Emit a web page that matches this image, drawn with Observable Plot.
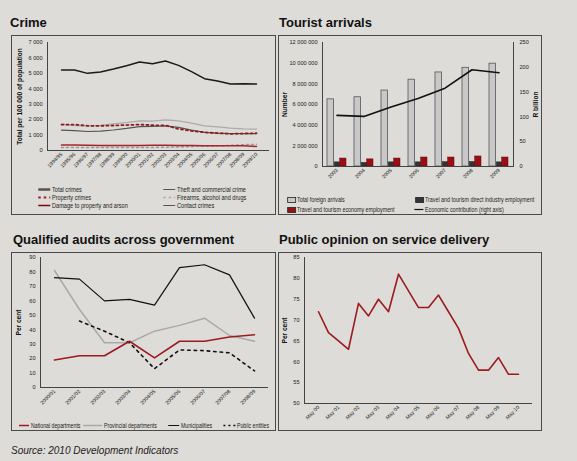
<!DOCTYPE html>
<html><head><meta charset="utf-8">
<script src="https://cdn.jsdelivr.net/npm/d3@7"></script>
<script src="https://cdn.jsdelivr.net/npm/@observablehq/plot@0.6"></script>
<style>
html,body{margin:0;padding:0;background:#dddcd8;}
#page{position:relative;width:577px;height:461px;background:#dddcd8;overflow:hidden;font-family:"Liberation Sans",Arial,sans-serif;}
.title{position:absolute;font-weight:bold;font-size:13px;line-height:13px;color:#111;white-space:nowrap;}
.box{position:absolute;border:1px solid #4a4a4a;box-sizing:border-box;}
.panel{position:absolute;}
.panel svg{display:block;overflow:visible;}
.leg{position:absolute;font-family:"Liberation Sans Narrow","Liberation Sans",sans-serif;font-size:6.5px;line-height:7px;color:#222;white-space:nowrap;transform-origin:0 0;}
.sw{position:absolute;overflow:visible;}
.source{position:absolute;font-style:italic;font-size:10px;line-height:10px;color:#222;white-space:nowrap;}
</style>
</head><body>
<div id="page"></div>
<script>
// ---------- Data ----------
const crimeYears = ["1994/95","1995/96","1996/97","1997/98","1998/99","1999/00","2000/01","2001/02","2002/03","2003/04","2004/05","2005/06","2006/07","2007/08","2008/09","2009/10"];
const totalCrimes = [5215,5215,5000,5086,5280,5495,5733,5625,5797,5517,5108,4655,4504,4310,4332,4310];
const propertyCrimes = [1680,1680,1600,1600,1620,1650,1680,1640,1620,1400,1270,1180,1120,1080,1100,1120];
const theftCommercial = [1320,1290,1230,1260,1330,1430,1550,1570,1600,1500,1320,1180,1120,1100,1100,1100];
const contactCrimes = [1700,1620,1600,1620,1720,1810,1920,1900,1980,1920,1770,1600,1530,1450,1400,1380];
const damageArson = [360,350,340,330,330,330,330,340,340,330,320,310,300,300,300,260];
const firearmsDrugs = [200,190,190,190,190,190,200,200,210,230,260,280,300,330,380,400];
const crimeTicks = [0,1000,2000,3000,4000,5000,6000,7000];

const tourYears = ["2003","2004","2005","2006","2007","2008","2009"];
const foreignArrivals = [6500000,6700000,7350000,8400000,9100000,9550000,9950000];
const directEmployment = [400000,350000,400000,400000,420000,430000,400000];
const economyEmployment = [770000,690000,770000,870000,870000,970000,870000];
const economicContribution = [103,101,120,137,158,195,189];
const tourLeftTicks = [0,2000000,4000000,6000000,8000000,10000000,12000000];
const tourRightTicks = [0,50,100,150,200,250];

const auditYears = ["2000/01","2001/02","2002/03","2003/04","2004/05","2005/06","2006/07","2007/08","2008/09"];
const nationalDepts = [19,22,22,32,20.5,32,32,35,36.5];
const provincialDepts = [81,54,31,31,39,43,48,36,32];
const municipalities = [76,75,60,61,57,83,85,78,48];
const publicEntities = [null,46,39,31,13,26,25.5,24,11.5];
const auditTicks = [0,10,20,30,40,50,60,70,80,90];

const opinionDates = ["May 00","Nov 00","May 01","Nov 01","May 02","Nov 02","May 03","Nov 03","May 04","Nov 04","May 05","Nov 05","May 06","Nov 06","May 07","Nov 07","May 08","Nov 08","May 09","Nov 09","May 10"];
const opinionValues = [72,67,65,63,74,71,75,72,81,77,73,73,76,72,68,62,58,58,61,57,57];
const opinionTicks = [50,55,60,65,70,75,80,85];

// ---------- helpers ----------
const page = document.getElementById("page");
const NARROW = '"Liberation Sans Narrow","Liberation Sans",sans-serif';
const fmtSpace = d => d3.format(",")(d).replace(/,/g, " ");
const AX = "#444";
const RED = "#9b1b1f";
const XF = 5.2, YF = 5.6;
function add(tag, cls, css, html) {
  const el = document.createElement(tag);
  if (cls) el.className = cls;
  Object.assign(el.style, css);
  if (html != null) el.innerHTML = html;
  page.appendChild(el);
  return el;
}
function panel(left, top, svg) {
  const d = add("div", "panel", {left: left + "px", top: top + "px"});
  d.appendChild(svg);
}
const baseStyle = {background: "transparent", fontFamily: NARROW, fontSize: "6px", color: "#222", overflow: "visible"};
function axisTitle(text, dx, anchor = "left") {
  return Plot.text([text], {text: d => d, frameAnchor: anchor, textAnchor: "middle", dx, rotate: -90, fontWeight: "bold", fontSize: 6.6, fill: "#111"});
}
function legLine(x, y, label, sc, {stroke, width = 1, dash = null, len = 12}) {
  const s = `<svg class="sw" width="${len}" height="6" style="left:${(-len - 2) / sc}px;top:0px;transform:scaleX(${1 / sc});transform-origin:0 0"><line x1="0" x2="${len}" y1="3.5" y2="3.5" stroke="${stroke}" stroke-width="${width}" ${dash ? `stroke-dasharray="${dash}"` : ""}/></svg>`;
  add("div", "leg", {left: x + "px", top: y + "px", transform: `scaleX(${sc})`}, s + label);
}
function legRect(x, y, label, sc, fill) {
  const s = `<svg class="sw" width="9" height="6" style="left:${-10 / sc}px;top:0.5px;transform:scaleX(${1 / sc});transform-origin:0 0"><rect x="0.5" y="0.5" width="8" height="5" fill="${fill}" stroke="#222" stroke-width="0.8"/></svg>`;
  add("div", "leg", {left: x + "px", top: y + "px", transform: `scaleX(${sc})`}, s + label);
}

// ---------- Titles & boxes ----------
add("div", "title", {left: "10px", top: "16px"}, "Crime");
add("div", "title", {left: "279px", top: "16px"}, "Tourist arrivals");
add("div", "title", {left: "13px", top: "233px"}, "Qualified audits across government");
add("div", "title", {left: "279px", top: "233px"}, "Public opinion on service delivery");
add("div", "box", {left: "11px", top: "35px", width: "265px", height: "180px"});
add("div", "box", {left: "278px", top: "35px", width: "264px", height: "180px"});
add("div", "box", {left: "11px", top: "252px", width: "265px", height: "179px"});
add("div", "box", {left: "278px", top: "252px", width: "264px", height: "179px"});
add("div", "source", {left: "11px", top: "446px"}, "Source: 2010 Development Indicators");

// ---------- Crime ----------
const cx = (d, i) => crimeYears[i];
panel(11, 36, Plot.plot({
  width: 265, height: 150, marginLeft: 36, marginRight: 7, marginTop: 6, marginBottom: 36,
  style: baseStyle,
  x: {type: "point", domain: crimeYears, padding: 0.5},
  y: {domain: [0, 7000]},
  marks: [
    Plot.axisY({ticks: crimeTicks, tickFormat: fmtSpace, tickSize: 0, tickPadding: 5, label: null, fontSize: YF}),
    Plot.axisX({tickRotate: -45, tickSize: 0, tickPadding: 3, label: null, fontSize: XF}),
    Plot.frame({anchor: "left", stroke: AX}),
    Plot.ruleY([0], {stroke: AX}),
    Plot.line(contactCrimes, {x: cx, y: d => d, stroke: "#ababab", strokeWidth: 1.3}),
    Plot.line(theftCommercial, {x: cx, y: d => d, stroke: "#555", strokeWidth: 1.2}),
    Plot.line(firearmsDrugs, {x: cx, y: d => d, stroke: "#9a9a9a", strokeWidth: 1.5, strokeDasharray: "2,3"}),
    Plot.line(damageArson, {x: cx, y: d => d, stroke: "#a5272b", strokeWidth: 1.5}),
    Plot.line(propertyCrimes, {x: cx, y: d => d, stroke: "#8e1a1c", strokeWidth: 1.8, strokeDasharray: "2,3"}),
    Plot.line(totalCrimes, {x: cx, y: d => d, stroke: "#1a1a1a", strokeWidth: 1.5}),
    axisTitle("Total per 100 000 of population", -28)
  ]
}));
const cs = 0.86;
legLine(52, 186, "Total crimes", cs, {stroke: "#555", width: 2.5});
legLine(52, 194, "Property crimes", cs, {stroke: "#a01c1c", width: 2, dash: "2.5,3"});
legLine(52, 201.5, "Damage to property and arson", cs, {stroke: "#7a0a0a", width: 1.5});
legLine(177, 186, "Theft and commercial crime", cs, {stroke: "#555", width: 1});
legLine(177, 194, "Firearms, alcohol and drugs", cs, {stroke: "#aaa", width: 1.5, dash: "2.5,3"});
legLine(177, 201.5, "Contact crimes", cs, {stroke: "#555", width: 1});

// ---------- Tourist arrivals ----------
const factor = 12000000 / 250;
const tx = (d, i) => tourYears[i];
panel(278, 36, Plot.plot({
  width: 264, height: 150, marginLeft: 44, marginRight: 29, marginTop: 6, marginBottom: 20,
  style: baseStyle,
  x: {type: "band", domain: tourYears, paddingInner: 0.3, paddingOuter: 0.15},
  y: {domain: [0, 12000000]},
  marks: [
    Plot.axisY({ticks: tourLeftTicks, tickFormat: fmtSpace, tickSize: 0, tickPadding: 5, label: null, fontSize: YF}),
    Plot.axisY({anchor: "right", ticks: tourRightTicks.map(v => v * factor), tickFormat: d => String(Math.round(d / factor)), tickSize: 0, tickPadding: 6, label: null, fontSize: YF}),
    Plot.axisX({tickRotate: -45, tickSize: 0, tickPadding: 3, label: null, fontSize: XF}),
    Plot.barY(foreignArrivals, {x: tx, y: d => d, fill: "#c8c8c8", stroke: "#555", strokeWidth: 0.8, insetLeft: 0, insetRight: 12.5}),
    Plot.barY(directEmployment, {x: tx, y: d => d, fill: "#333", stroke: "#222", strokeWidth: 0.5, insetLeft: 7.3, insetRight: 6.3}),
    Plot.barY(economyEmployment, {x: tx, y: d => d, fill: "#9a0e14", stroke: "#5a0a0a", strokeWidth: 0.5, insetLeft: 12.7, insetRight: 0}),
    Plot.frame({anchor: "left", stroke: AX}),
    Plot.frame({anchor: "right", stroke: AX}),
    Plot.ruleY([0], {stroke: AX}),
    Plot.line(economicContribution, {x: tx, y: d => d * factor, stroke: "#111", strokeWidth: 1.6}),
    axisTitle("Number", -38),
    axisTitle("R billion", 22, "right")
  ]
}));
const ts = 0.82;
legRect(297, 196, "Total foreign arrivals", ts, "#c8c8c8");
legRect(297, 206, "Travel and tourism economy employment", ts, "#9a0e14");
legRect(425, 196, "Travel and tourism direct industry employment", ts, "#333");
legLine(425, 206, "Economic contribution (right axis)", ts, {stroke: "#111", width: 1.2, len: 9});

// ---------- Qualified audits ----------
const ax = (d, i) => auditYears[i];
panel(11, 252, Plot.plot({
  width: 265, height: 165, marginLeft: 29, marginRight: 8, marginTop: 5, marginBottom: 30,
  style: baseStyle,
  x: {type: "point", domain: auditYears, padding: 0.5},
  y: {domain: [0, 90]},
  marks: [
    Plot.axisY({ticks: auditTicks, tickSize: 0, tickPadding: 5, label: null, fontSize: YF}),
    Plot.axisX({tickRotate: -45, tickSize: 0, tickPadding: 3, label: null, fontSize: XF}),
    Plot.frame({anchor: "left", stroke: AX}),
    Plot.ruleY([0], {stroke: AX}),
    Plot.line(provincialDepts, {x: ax, y: d => d, stroke: "#a9a9a9", strokeWidth: 1.5}),
    Plot.line(publicEntities, {x: ax, y: d => d, stroke: "#111", strokeWidth: 1.6, strokeDasharray: "2.5,4"}),
    Plot.line(municipalities, {x: ax, y: d => d, stroke: "#111", strokeWidth: 1.2}),
    Plot.line(nationalDepts, {x: ax, y: d => d, stroke: RED, strokeWidth: 1.6}),
    axisTitle("Per cent", -22)
  ]
}));
const as = 0.8;
legLine(31, 422, "National departments", as, {stroke: RED, width: 1.5, len: 10});
legLine(104, 422, "Provincial departments", as, {stroke: "#a9a9a9", width: 1.5, len: 19});
legLine(181, 422, "Municipalities", as, {stroke: "#111", width: 1, len: 11});
legLine(237, 422, "Public entities", as, {stroke: "#111", width: 1.5, dash: "2,3", len: 12});

// ---------- Public opinion ----------
panel(278, 252, Plot.plot({
  width: 264, height: 178, marginLeft: 26, marginRight: 10, marginTop: 5, marginBottom: 27,
  style: baseStyle,
  x: {type: "point", domain: opinionDates, padding: 0.5},
  y: {domain: [50, 85]},
  marks: [
    Plot.axisY({ticks: opinionTicks, tickSize: 0, tickPadding: 5, label: null, fontSize: YF}),
    Plot.axisX({ticks: opinionDates.filter(d => d.startsWith("May")), tickRotate: -45, tickSize: 0, tickPadding: 3, label: null, fontSize: XF}),
    Plot.frame({anchor: "left", stroke: AX}),
    Plot.ruleY([50], {stroke: AX}),
    Plot.line(opinionValues, {x: (d, i) => opinionDates[i], y: d => d, stroke: RED, strokeWidth: 1.6}),
    axisTitle("Per cent", -20)
  ]
}));
</script>
</body></html>
